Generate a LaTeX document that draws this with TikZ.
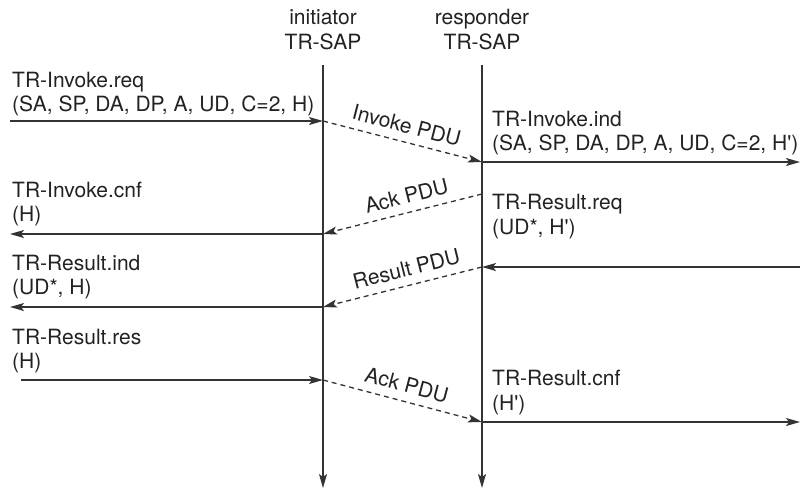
\documentclass[tikz,border=0pt]{standalone}
\usepackage{fontspec}
\newfontfamily\heros{TeX Gyre Heros}
\usetikzlibrary{arrows.meta}
\definecolor{ink}{HTML}{222222}
\definecolor{linec}{HTML}{333333}
\begin{document}
\begin{tikzpicture}[x=1pt,y=-1pt,
  lbl/.style={anchor=base west,inner sep=0pt,text=ink,font=\heros\fontsize{21}{24}\selectfont},
  hdr/.style={anchor=base,inner sep=0pt,text=ink,font=\heros\fontsize{21}{24}\selectfont},
  pdu/.style={sloped,above=8pt,inner sep=0pt,text=ink,font=\heros\fontsize{21}{24}\selectfont},
  msg/.style={draw=linec,line width=1.3pt,-{Stealth[length=14pt,width=8pt,inset=3pt]}},
  pdumsg/.style={msg,dash pattern=on 5pt off 4pt},
  life/.style={msg}]
\useasboundingbox (0,0) rectangle (800,490);
% headers
\node[hdr] (h1) at (323,24) {initiator};
\node[hdr] (h2) at (323,49) {TR-SAP};
\node[hdr] (h3) at (482,24) {responder};
\node[hdr] (h4) at (482,49) {TR-SAP};
% lifelines
\coordinate (itop) at (323,65);
\coordinate (ibot) at (323,488);
\coordinate (rtop) at (482,65);
\coordinate (rbot) at (482,488);
\draw[life] (itop) -- (ibot);
\draw[life] (rtop) -- (rbot);
% coordinates
\coordinate (a0) at (10,121);   \coordinate (a1) at (323,121);
\coordinate (b0) at (482,162);  \coordinate (b1) at (800,162);
\coordinate (c0) at (482,194);  \coordinate (c1) at (323,234);
\coordinate (d0) at (10,234);
\coordinate (e0) at (800,267);  \coordinate (e1) at (482,267);
\coordinate (f1) at (323,307);  \coordinate (f0) at (10,307);
\coordinate (g0) at (21,380);   \coordinate (g1) at (323,380);
\coordinate (k1) at (482,422);  \coordinate (k0) at (800,422);
% arrows
\draw[msg] (a0) -- (a1);
\draw[pdumsg] (a1) -- node[pdu] (p1) {Invoke PDU} (b0);
\draw[msg] (b0) -- (b1);
\draw[pdumsg] (c0) -- node[pdu,pos=0.45] (p2) {Ack PDU} (c1);
\draw[msg] (c1) -- (d0);
\draw[msg] (e0) -- (e1);
\draw[pdumsg] (e1) -- node[pdu,pos=0.45] (p3) {Result PDU} (f1);
\draw[msg] (f1) -- (f0);
\draw[msg] (g0) -- (g1);
\draw[pdumsg] (g1) -- node[pdu] (p4) {Ack PDU} (k1);
\draw[msg] (k1) -- (k0);
% left labels
\node[lbl] (l1) at (12,87) {TR-Invoke.req};
\node[lbl] (l2) at (12,111) {(SA, SP, DA, DP, A, UD, C=2, H)};
\node[lbl] (l3) at (12,197) {TR-Invoke.cnf};
\node[lbl] (l4) at (12,221) {(H)};
\node[lbl] (l5) at (12,270) {TR-Result.ind};
\node[lbl] (l6) at (12,294) {(UD*, H)};
\node[lbl] (l7) at (12,344) {TR-Result.res};
\node[lbl] (l8) at (12,368) {(H)};
% right labels
\node[lbl] (r1) at (492,126) {TR-Invoke.ind};
\node[lbl] (r2) at (492,150) {(SA, SP, DA, DP, A, UD, C=2, H')};
\node[lbl] (r3) at (492,209) {TR-Result.req};
\node[lbl] (r4) at (492,234) {(UD*, H')};
\node[lbl] (r5) at (492,385) {TR-Result.cnf};
\node[lbl] (r6) at (492,410) {(H')};
\end{tikzpicture}
\end{document}
